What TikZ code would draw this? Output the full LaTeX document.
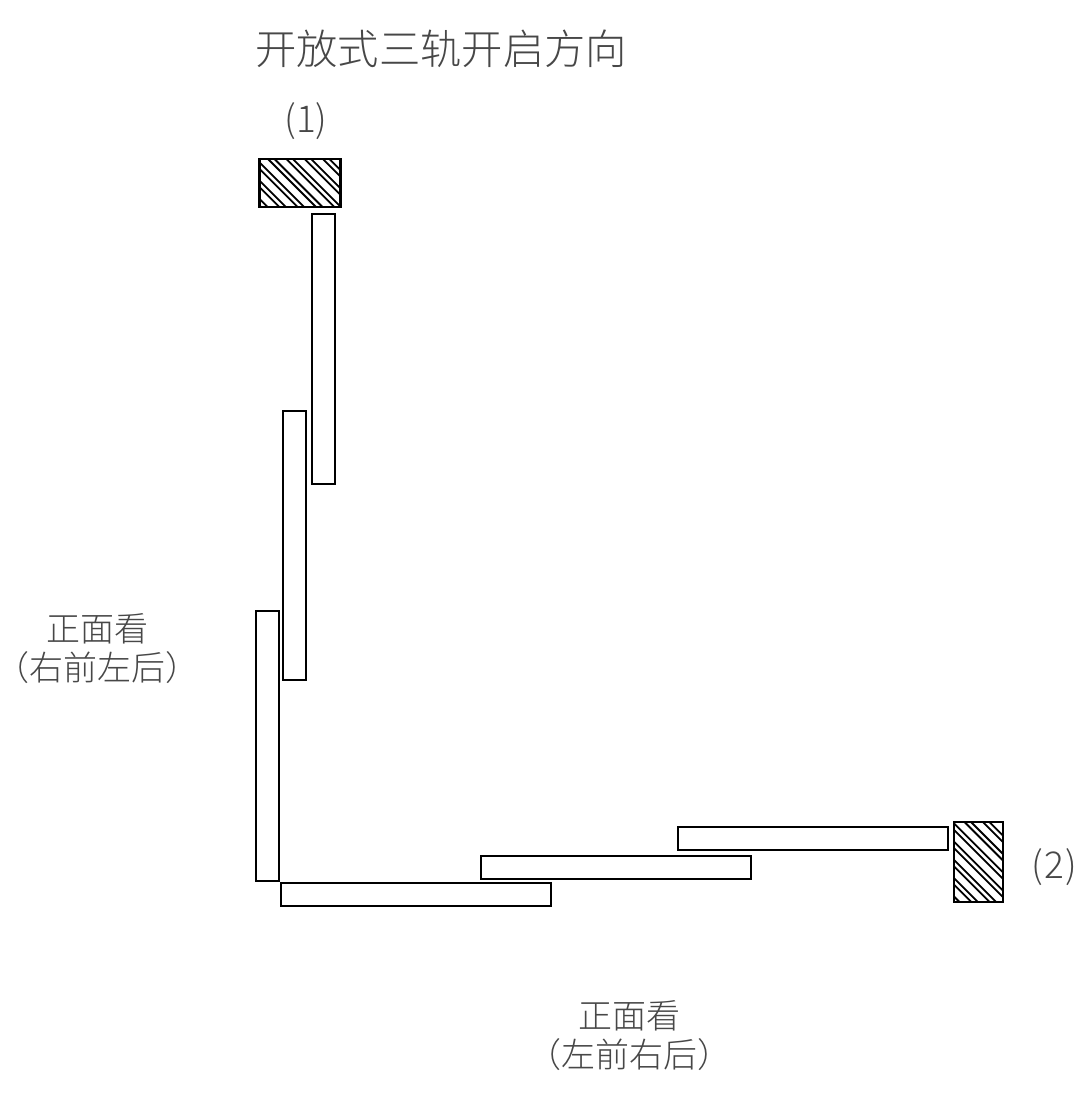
\documentclass[tikz,border=0pt]{standalone}
\usepackage{fontspec}
\newfontfamily\cjk{Noto Sans CJK SC Light}
\tikzset{
  bar/.style={draw=black,line width=2pt,fill=white},
  hatchbox/.style={draw=black,line width=2.6pt},
  hatchline/.style={draw=black,line width=1.8pt},
  lab/.style={text=black!72,inner sep=0pt,font=\cjk\fontsize{34}{39}\selectfont,align=center},
  num/.style={text=black!72,inner sep=0pt,font=\cjk\fontsize{37}{39}\selectfont},
  ttl/.style={text=black!72,inner sep=0pt,font=\cjk\fontsize{41.3}{46}\selectfont}
}
\begin{document}
\begin{tikzpicture}[x=1pt,y=-1pt]
\useasboundingbox (0,0) rectangle (1091,1107);
% bars
\draw[bar] (312,214) rectangle (335,484);
\draw[bar] (283,411) rectangle (306,680);
\draw[bar] (256,611) rectangle (279,881);
\draw[bar] (281,883) rectangle (551,906);
\draw[bar] (481,856) rectangle (751,879);
\draw[bar] (678,827) rectangle (948,850);
% hatched blocks: pairs of lines x-y=c
\begin{scope}
\clip (259.5,159) rectangle (340.5,207);
\foreach \k in {-4,-3,...,4}{
  \draw[hatchline] ({109+18.3*\k+100},100) -- ++(120,120);
  \draw[hatchline] ({115.5+18.3*\k+100},100) -- ++(120,120);
}
\end{scope}
\draw[hatchbox] (259.5,159) rectangle (340.5,207);
\begin{scope}
\clip (954,822) rectangle (1003,902);
\foreach \c in {51,57.5,69.3,75.8,87.6,94.1,105.9,112.4,124.2,130.7,142.5,149,160.8,167.3}
  \draw[hatchline] (904,904-\c) -- ++(120,120);
\end{scope}
\draw[hatchbox] (954,822) rectangle (1003,902);
% labels
\node[ttl,anchor=west] (title) at (255,49) {开放式三轨开启方向};
\node[num] (one) at (306,121) {(1)};
\node[num] (two) at (1054.5,867) {(\kern1pt2\kern1pt)};
\node[lab] (left) at (97,649) {正面看\\（右前左后）};
\node[lab] (bottom) at (629,1036) {正面看\\（左前右后）};
\end{tikzpicture}
\end{document}
